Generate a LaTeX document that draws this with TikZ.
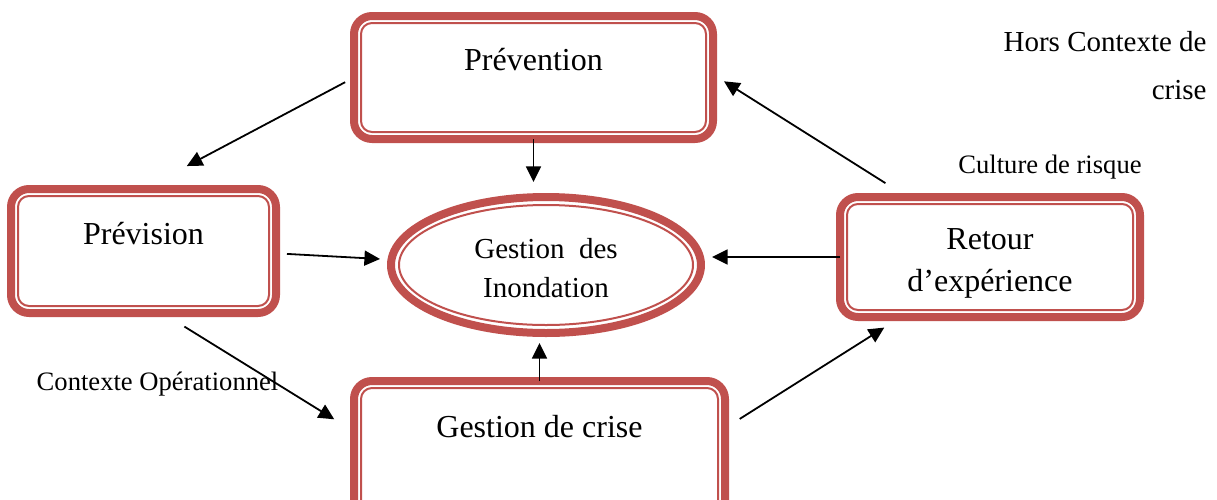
\documentclass[tikz,border=0pt]{standalone}
\usepackage{fontspec}
\setmainfont{Liberation Serif}
\usetikzlibrary{arrows.meta,shapes.geometric}
\definecolor{rougecadre}{HTML}{C0504D}
\begin{document}
\begin{tikzpicture}[x=0.5pt, y=-0.5pt, >={Triangle[length=7.8pt,width=7.5pt]}, line join=round,
 cadre/.style={draw=rougecadre, line width=4pt, rounded corners=9pt, align=center, inner sep=0pt, outer sep=0pt, font=\fontsize{16}{21}\selectfont},
 haut/.style={text height=12pt, text depth=19pt},
 interieur/.style={draw=rougecadre, line width=1pt, rounded corners=5.5pt},
 fleche/.style={->, line width=0.9pt},
 petit/.style={inner sep=0pt, font=\fontsize{13.3}{16}\selectfont}]
\useasboundingbox (0,0) rectangle (1217,499);
% Les cadres
\node[cadre, haut, minimum width=179.5pt, minimum height=61.5pt] (prevention) at (533.5,77.5) {Prévention};
\node[cadre, haut, minimum width=132.5pt, minimum height=62pt] (prevision) at (143.5,251) {Prévision};
\node[cadre, minimum width=150pt, minimum height=60pt] (retour) at (990,257) {\rule{0pt}{16.6pt}Retour\\d’expérience};
\node[cadre, haut, text depth=25.5pt, minimum width=185.5pt, minimum height=70pt] (crise) at (539.5,451) {Gestion de crise};
\node[cadre, ellipse, minimum width=155pt, minimum height=68pt, font=\fontsize{14.5}{19.5}\selectfont] (gestion) at (546,265) {\rule{0pt}{13pt}Gestion\ \ des\\Inondation};
% Le trait fin a l'interieur
\foreach \n in {prevention,prevision,retour,crise}
\draw[interieur] ([shift={(3.5pt,3.5pt)}]\n.south west) rectangle ([shift={(-3.5pt,-3.5pt)}]\n.north east);
\draw[interieur] (gestion.center) ellipse [x radius=73.5pt, y radius=30pt];
% Les fleches
\draw[fleche, shorten <=5pt, shorten >=24.5pt] (prevention.west) -- (prevision.north);
\draw[fleche, shorten >=7.5pt] (prevention.south) -- (prevention.south |- gestion.north);
\draw[fleche, shorten <=5.5pt, shorten >=5.75pt] (prevision.-1.5) -- (gestion.178);
\draw[fleche, shorten >=5.5pt] (retour.west) -- (retour.west -| gestion.east);
\draw[fleche, shorten <=13pt, shorten >=6.5pt] (retour.144) -- (prevention.1);
\draw[fleche, shorten <=12.9pt, shorten >=11.6pt] (prevision.-73) -- (crise.174);
\draw[fleche, shorten >=5pt] (crise.north) -- (crise.north |- gestion.south);
\draw[fleche, shorten <=8.7pt, shorten >=9.9pt] (crise.7) -- (retour.214);
% Les textes
\node[petit, font=\fontsize{14.5}{24}\selectfont, align=right, anchor=east] (hors) at (1207,66) {Hors Contexte de\\crise};
\node[petit] (culture) at (1050,167) {Culture de risque};
\node[petit] (contexte) at (157.5,384) {Contexte Opérationnel};
\end{tikzpicture}
\end{document}
